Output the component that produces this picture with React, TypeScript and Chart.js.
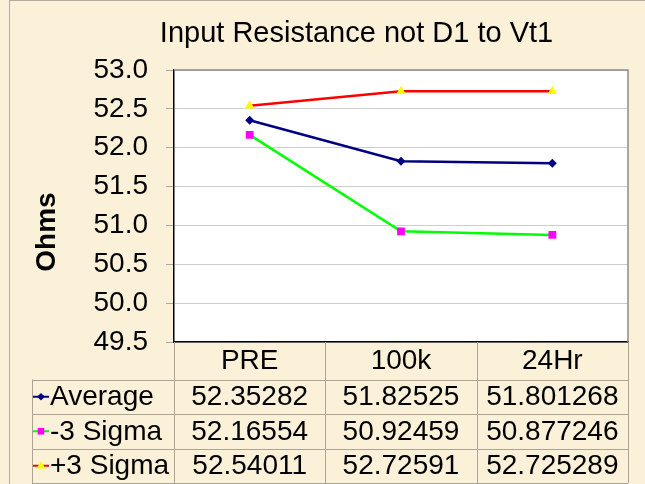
import React, { useEffect, useRef } from "react";
import { Chart, registerables } from "chart.js";

Chart.register(...registerables);

const titleText = "Input Resistance not D1 to Vt1";
const yAxisTitle = "Ohms";
const categories = ["PRE", "100k", "24Hr"];
const seriesNames = ["Average", "-3 Sigma", "+3 Sigma"];
const average = [52.35282, 51.82525, 51.801268];
const minus3Sigma = [52.16554, 50.92459, 50.877246];
const plus3Sigma = [52.54011, 52.72591, 52.725289];
const yMin = 49.5;
const yMax = 53.0;
const yStep = 0.5;

const FONT = '"Liberation Sans", Arial, Helvetica, sans-serif';
const BG = "#FBF1D9";
const TABLE_LINE = "#ABA495";

const seriesStyles = [
  { line: "#000080", fill: "#000080", point: "rectRot", radius: 4.5, width: 2.5 },
  { line: "#00FF00", fill: "#FF00FF", point: "rect", radius: 5.5, width: 2.5 },
  { line: "#FF0000", fill: "#FFFF00", point: "triangle", radius: 5.5, width: 2.5 },
];

function drawMarker(ctx: CanvasRenderingContext2D, kind: string, x: number, y: number, r: number, color: string) {
  ctx.fillStyle = color;
  ctx.beginPath();
  if (kind === "rectRot") {
    ctx.moveTo(x, y - r);
    ctx.lineTo(x + r, y);
    ctx.lineTo(x, y + r);
    ctx.lineTo(x - r, y);
  } else if (kind === "rect") {
    const s = r * Math.SQRT1_2;
    ctx.rect(x - s, y - s, 2 * s, 2 * s);
  } else {
    ctx.moveTo(x, y - r);
    ctx.lineTo(x + r * 0.95, y + r * 0.6);
    ctx.lineTo(x - r * 0.95, y + r * 0.6);
  }
  ctx.closePath();
  ctx.fill();
}

const excelPlugin = {
  id: "excelFrame",
  beforeDraw(chart: any) {
    const { ctx, chartArea: a, width, height } = chart;
    ctx.save();
    ctx.fillStyle = BG;
    ctx.fillRect(0, 0, width, height);
    ctx.strokeStyle = "#B0ACA0";
    ctx.lineWidth = 1;
    ctx.strokeRect(9.5, 0.5, width + 10, height + 10);
    ctx.fillStyle = "#FFFFFF";
    ctx.fillRect(a.left, a.top, a.right - a.left, a.bottom - a.top);
    ctx.restore();
  },
  afterDraw(chart: any) {
    const { ctx, chartArea: a } = chart;
    const xs = chart.scales.x;
    ctx.save();
    // plot border top/right
    ctx.strokeStyle = "#8C8C8C";
    ctx.lineWidth = 1.5;
    ctx.beginPath();
    ctx.moveTo(a.left, a.top);
    ctx.lineTo(a.right, a.top);
    ctx.lineTo(a.right, a.bottom);
    ctx.stroke();

    // title
    ctx.fillStyle = "#000";
    ctx.font = `29px ${FONT}`;
    ctx.textAlign = "center";
    ctx.textBaseline = "alphabetic";
    ctx.fillText(titleText, 356.5, 42);

    // y title
    ctx.save();
    ctx.translate(47, 232);
    ctx.rotate(-Math.PI / 2);
    ctx.font = `bold 28px ${FONT}`;
    ctx.textBaseline = "middle";
    ctx.fillText(yAxisTitle, 0, 0);
    ctx.restore();

    // data table
    const half = (xs.getPixelForValue(1) - xs.getPixelForValue(0)) / 2;
    const bounds = [a.left, ...categories.map((_, i) => xs.getPixelForValue(i) + half)];
    const headerBottom = a.bottom + 37.5;
    const rowH = 34.5;
    const tableLeft = 32;
    const tableBottom = headerBottom + rowH * seriesNames.length;
    ctx.strokeStyle = TABLE_LINE;
    ctx.lineWidth = 1;
    ctx.beginPath();
    bounds.forEach((b) => {
      const x = Math.round(b) + 0.5;
      ctx.moveTo(x, a.bottom);
      ctx.lineTo(x, tableBottom);
    });
    ctx.moveTo(tableLeft + 0.5, headerBottom);
    ctx.lineTo(tableLeft + 0.5, tableBottom);
    for (let i = 0; i <= seriesNames.length; i++) {
      const y = Math.round(headerBottom + i * rowH) + 0.5;
      ctx.moveTo(tableLeft, y);
      ctx.lineTo(a.right, y);
    }
    ctx.stroke();

    const data = [average, minus3Sigma, plus3Sigma];
    ctx.font = `28px ${FONT}`;
    ctx.textBaseline = "middle";
    seriesNames.forEach((name, r) => {
      const cy = headerBottom + rowH * r + rowH / 2;
      const st = seriesStyles[r];
      // legend key
      ctx.strokeStyle = st.line;
      ctx.lineWidth = 2;
      ctx.beginPath();
      ctx.moveTo(tableLeft + 1, cy);
      ctx.lineTo(tableLeft + 17, cy);
      ctx.stroke();
      drawMarker(ctx, st.point, tableLeft + 9, cy, st.radius * 0.85, st.fill);
      ctx.fillStyle = "#000";
      ctx.textAlign = "left";
      ctx.fillText(name, tableLeft + 18, cy + 1);
      ctx.textAlign = "center";
      data[r].forEach((v, c) => {
        const cx = (bounds[c] + bounds[c + 1]) / 2;
        ctx.fillText(String(v), cx, cy + 1);
      });
    });
    ctx.restore();
  },
};

export default function App() {
  const ref = useRef<HTMLCanvasElement | null>(null);
  useEffect(() => {
    if (!ref.current) return;
    const datasets = [average, minus3Sigma, plus3Sigma].map((d, i) => ({
      label: seriesNames[i],
      data: d,
      borderColor: seriesStyles[i].line,
      borderWidth: seriesStyles[i].width,
      backgroundColor: seriesStyles[i].fill,
      pointBackgroundColor: seriesStyles[i].fill,
      pointBorderColor: seriesStyles[i].fill,
      pointBorderWidth: 0,
      pointStyle: seriesStyles[i].point as any,
      pointRadius: seriesStyles[i].radius,
      tension: 0,
      fill: false,
    }));
    const chart = new Chart(ref.current, {
      type: "line",
      data: { labels: categories, datasets },
      options: {
        animation: false,
        responsive: false,
        layout: { padding: { top: 70, right: 17, left: 0, bottom: 0 } },
        plugins: { legend: { display: false }, title: { display: false }, tooltip: { enabled: false } },
        scales: {
          x: {
            type: "category",
            offset: true,
            grid: { display: false, drawTicks: false },
            border: { display: true, color: "#000", width: 1.5 },
            ticks: {
              color: "#000",
              font: { family: FONT, size: 28 },
              padding: 2,
              autoSkip: false,
              maxRotation: 0,
              minRotation: 0,
            },
            afterFit: (s: any) => {
              s.height = 484 - 342;
            },
          },
          y: {
            min: yMin,
            max: yMax,
            grid: { color: "#CDCDCD", lineWidth: 1, tickLength: 8, tickColor: "#A8A8A8" },
            border: { display: true, color: "#000", width: 1.5 },
            ticks: {
              stepSize: yStep,
              autoSkip: false,
              color: "#000",
              padding: 18,
              font: { family: FONT, size: 28 },
              callback: (v: any) => Number(v).toFixed(1),
            },
            afterFit: (s: any) => {
              s.width = 174;
            },
          },
        },
      },
      plugins: [excelPlugin],
    });
    return () => chart.destroy();
  }, []);
  return (
    <div style={{ position: "absolute", left: 0, top: 0, width: 645, height: 484 }}>
      <canvas ref={ref} width={645} height={484} style={{ display: "block", width: 645, height: 484 }} />
    </div>
  );
}
